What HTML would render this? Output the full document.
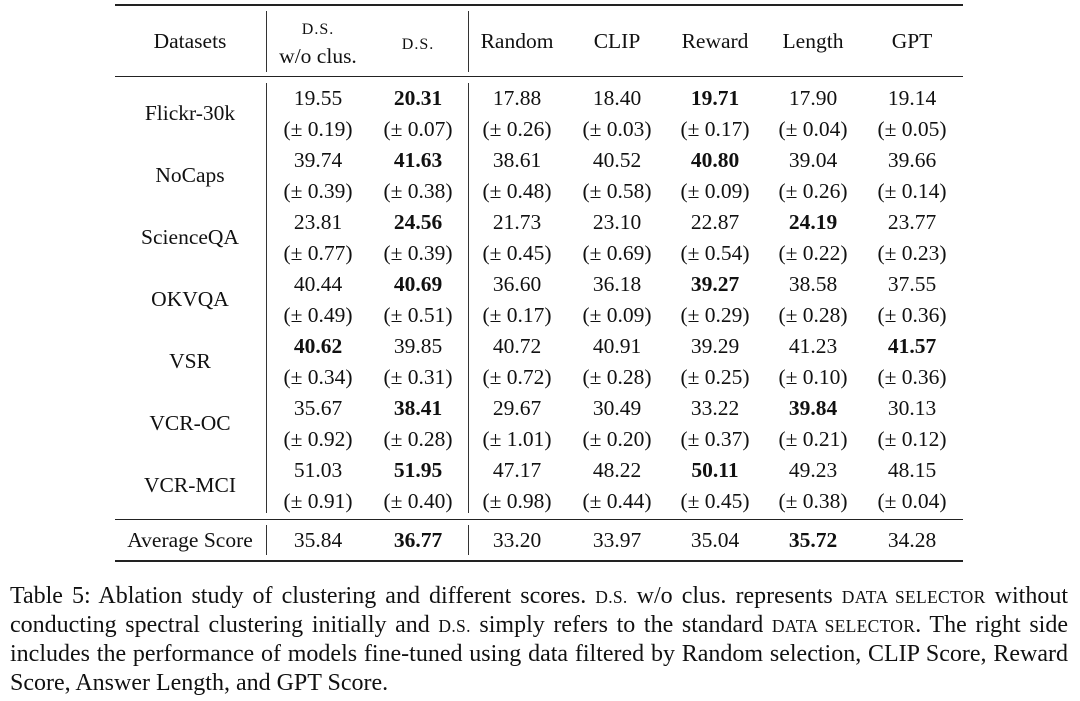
<!DOCTYPE html>
<html><head><meta charset="utf-8"><style>
body{margin:0;width:1080px;height:701px;background:#fff;position:relative;overflow:hidden;font-family:"Liberation Serif",serif;color:#111}
.c{position:absolute;width:140px;margin-left:-70px;text-align:center;font-size:21.5px;line-height:24px;white-space:nowrap;transform:translateY(-12px)}
.b{font-weight:bold}
.sc{font-size:16px;letter-spacing:1px}
.h{position:absolute;left:115px;width:848px;background:#222}
.v{position:absolute;width:1px;background:#333}
.cap{position:absolute;left:10px;width:1058px;font-size:24px;line-height:29px;text-align:justify;text-align-last:justify;white-space:nowrap}
.cap .sc{font-size:17.5px;letter-spacing:0.3px}
</style></head><body>
<div class="h" style="top:4px;height:2px"></div>
<div class="h" style="top:76px;height:1px"></div>
<div class="h" style="top:519px;height:1px"></div>
<div class="h" style="top:560px;height:2px"></div>
<div class="v" style="left:266px;top:11px;height:61px"></div>
<div class="v" style="left:468px;top:11px;height:61px"></div>
<div class="v" style="left:266px;top:83px;height:430px"></div>
<div class="v" style="left:468px;top:83px;height:430px"></div>
<div class="v" style="left:266px;top:525px;height:30px"></div>
<div class="v" style="left:468px;top:525px;height:30px"></div>

<div class="c" style="left:190px;top:41px">Datasets</div>
<div class="c" style="left:318px;top:27px"><span class="sc">D.S.</span></div>
<div class="c" style="left:318px;top:56px">w/o clus.</div>
<div class="c" style="left:418px;top:42px"><span class="sc">D.S.</span></div>
<div class="c" style="left:517px;top:41px">Random</div>
<div class="c" style="left:617px;top:41px">CLIP</div>
<div class="c" style="left:715px;top:41px">Reward</div>
<div class="c" style="left:813px;top:41px">Length</div>
<div class="c" style="left:912px;top:41px">GPT</div>

<div id="rows"></div>
<script>
var xs=[318,418,517,617,715,813,912];
var d=[
["Flickr-30k",["19.55","*20.31","17.88","18.40","*19.71","17.90","19.14"],["0.19","0.07","0.26","0.03","0.17","0.04","0.05"]],
["NoCaps",["39.74","*41.63","38.61","40.52","*40.80","39.04","39.66"],["0.39","0.38","0.48","0.58","0.09","0.26","0.14"]],
["ScienceQA",["23.81","*24.56","21.73","23.10","22.87","*24.19","23.77"],["0.77","0.39","0.45","0.69","0.54","0.22","0.23"]],
["OKVQA",["40.44","*40.69","36.60","36.18","*39.27","38.58","37.55"],["0.49","0.51","0.17","0.09","0.29","0.28","0.36"]],
["VSR",["*40.62","39.85","40.72","40.91","39.29","41.23","*41.57"],["0.34","0.31","0.72","0.28","0.25","0.10","0.36"]],
["VCR-OC",["35.67","*38.41","29.67","30.49","33.22","*39.84","30.13"],["0.92","0.28","1.01","0.20","0.37","0.21","0.12"]],
["VCR-MCI",["51.03","*51.95","47.17","48.22","*50.11","49.23","48.15"],["0.91","0.40","0.98","0.44","0.45","0.38","0.04"]]];
var h="";
function cell(x,y,t){var b=t[0]=="*";if(b)t=t.slice(1);return '<div class="c'+(b?' b':'')+'" style="left:'+x+'px;top:'+y+'px">'+t+'</div>';}
d.forEach(function(r,i){var y=98+62*i;h+=cell(190,y+15,r[0]);
for(var j=0;j<7;j++){h+=cell(xs[j],y,r[1][j]);h+=cell(xs[j],y+31,"(±&nbsp;"+r[2][j]+")");}});
h+=cell(190,540,"Average Score");
["35.84","*36.77","33.20","33.97","35.04","*35.72","34.28"].forEach(function(t,j){h+=cell(xs[j],540,t);});
document.getElementById("rows").innerHTML=h;
</script>

<div class="cap" style="top:582px">Table 5: Ablation study of clustering and different scores. <span class="sc">D.S.</span> w/o clus. represents <span class="sc">DATA SELECTOR</span> without</div>
<div class="cap" style="top:611px">conducting spectral clustering initially and <span class="sc">D.S.</span> simply refers to the standard <span class="sc">DATA SELECTOR</span>. The right side</div>
<div class="cap" style="top:640px">includes the performance of models fine-tuned using data filtered by Random selection, CLIP Score, Reward</div>
<div class="cap" style="top:669px;text-align-last:left">Score, Answer Length, and GPT Score.</div>
</body></html>
